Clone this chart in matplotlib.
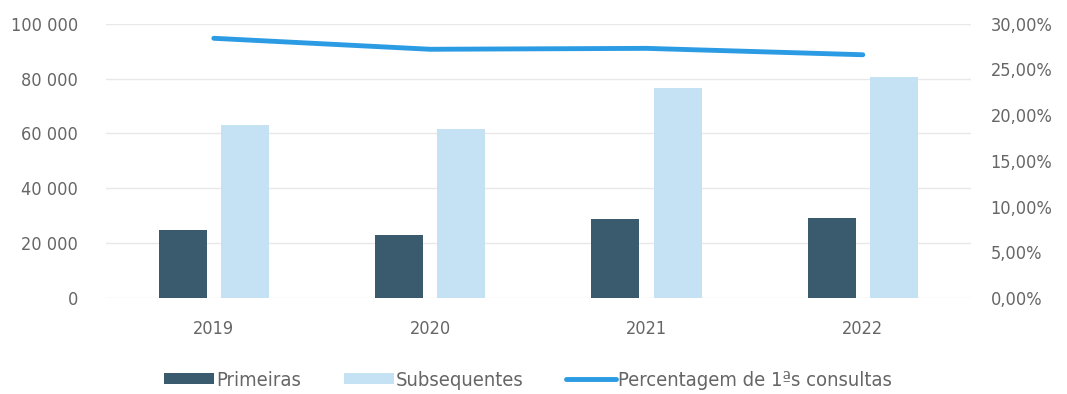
import matplotlib.pyplot as plt
import numpy as np
from matplotlib.ticker import FuncFormatter

years = ["2019", "2020", "2021", "2022"]
primeiras = [25000, 23200, 28800, 29200]
subsequentes = [63200, 61800, 76400, 80400]
pct_primeiras = [28.4, 27.2, 27.3, 26.6]

plt.rcParams["font.family"] = ["DejaVu Sans"]
plt.rcParams["font.stretch"] = "condensed"
plt.rcParams["font.weight"] = "light"
text_color = "#666666"

fig, ax = plt.subplots(figsize=(10.67, 3.94), dpi=100)
fig.subplots_adjust(left=0.099, right=0.910, top=0.94, bottom=0.243)

x = np.arange(len(years))
width = 0.222
offset = 0.144
ax.bar(x - offset, primeiras, width, color="#3a5a6e", label="Primeiras", zorder=2)
ax.bar(x + offset, subsequentes, width, color="#c5e2f4", label="Subsequentes", zorder=2)

ax.set_ylim(0, 100000)
ax.set_yticks(np.arange(0, 100001, 20000))
ax.yaxis.set_major_formatter(FuncFormatter(lambda v, p: f"{int(v):,}".replace(",", " ")))
ax.set_xlim(-0.5, len(years) - 0.5)
ax.set_xticks(x)
ax.set_xticklabels(years)
ax.grid(axis="y", color="#e8e8e8", linewidth=1, zorder=0)

ax2 = ax.twinx()
ax2.plot(x, pct_primeiras, color="#2b9be3", linewidth=3.5, solid_capstyle="round",
         label="Percentagem de 1ªs consultas", zorder=3)
ax2.set_ylim(0, 30)
ax2.set_yticks(np.arange(0, 30.1, 5))
ax2.yaxis.set_major_formatter(FuncFormatter(lambda v, p: f"{v:.2f}%".replace(".", ",")))

for a in (ax, ax2):
    for s in a.spines.values():
        s.set_visible(False)
    a.tick_params(length=0, labelsize=13, colors=text_color)
ax.tick_params(axis="y", pad=20)
ax.tick_params(axis="x", pad=16)
ax2.tick_params(axis="y", pad=14)

h1, l1 = ax.get_legend_handles_labels()
h2, l2 = ax2.get_legend_handles_labels()
fig.legend(h1 + h2, l1 + l2, loc="lower center", ncol=3, frameon=False,
           bbox_to_anchor=(0.495, -0.035), fontsize=14.5, labelcolor=text_color,
           handlelength=2.5, handleheight=0.5, handletextpad=0.1, columnspacing=2.1)

fig.savefig("out.png", dpi=100)
